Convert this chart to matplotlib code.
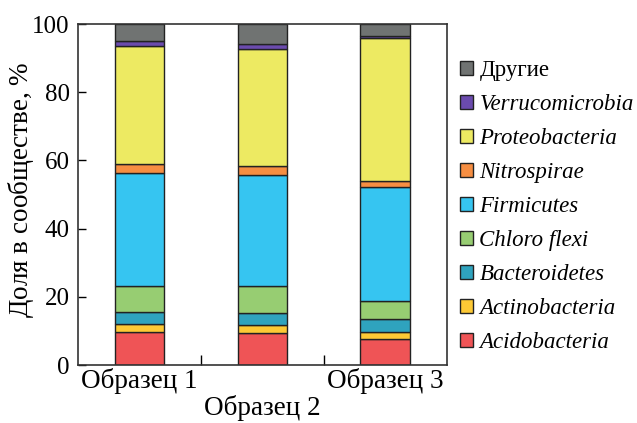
import numpy as np
import matplotlib
matplotlib.use("Agg")
import matplotlib.pyplot as plt
from matplotlib.patches import Patch

plt.rcParams['font.family'] = ['Liberation Serif', 'DejaVu Serif']
plt.rcParams['mathtext.fontset'] = 'custom'
plt.rcParams['mathtext.it'] = 'Liberation Serif:italic'
plt.rcParams['mathtext.rm'] = 'Liberation Serif'

samples = ['Образец 1', 'Образец 2', 'Образец 3']
taxa = ['Acidobacteria', 'Actinobacteria', 'Bacteroidetes', 'Chloroflexi',
        'Firmicutes', 'Nitrospirae', 'Proteobacteria', 'Verrucomicrobia', 'Другие']
legend_names = ['Acidobacteria', 'Actinobacteria', 'Bacteroidetes', 'Chloro flexi',
                'Firmicutes', 'Nitrospirae', 'Proteobacteria', 'Verrucomicrobia', 'Другие']
colors = ['#EF5456', '#FDC935', '#2FA3BE', '#97CD72', '#36C5F1',
          '#F68E42', '#EDEA62', '#6B4BAE', '#707372']

acidobacteria = [9.6, 9.3, 7.6]
actinobacteria = [2.3, 2.5, 2.0]
bacteroidetes = [3.6, 3.4, 3.8]
chloroflexi = [7.8, 8.1, 5.3]
firmicutes = [33.0, 32.3, 33.4]
nitrospirae = [2.8, 2.9, 1.8]
proteobacteria = [34.5, 34.3, 41.9]
verrucomicrobia = [1.3, 1.5, 0.8]
others = [5.1, 5.7, 3.4]

series = [acidobacteria, actinobacteria, bacteroidetes, chloroflexi, firmicutes,
          nitrospirae, proteobacteria, verrucomicrobia, others]

fig = plt.figure(figsize=(6.37, 4.23), dpi=100)
ax = fig.add_axes([0.1225, 0.137, 0.579, 0.806])

x = np.arange(len(samples)) + 0.5
bottom = np.zeros(len(samples))
for vals, c in zip(series, colors):
    vals = np.array(vals)
    ax.bar(x, vals, width=0.405, bottom=bottom, color=c,
           edgecolor='#222222', linewidth=1.0)
    bottom += vals

ax.set_xlim(0, 3)
ax.set_ylim(0, 100)
ax.set_yticks([0, 20, 40, 60, 80, 100])
ax.tick_params(axis='y', direction='in', length=6, labelsize=18, width=1, pad=6)
ax.set_xticks(x)
ax.set_xticklabels([samples[0], '\n' + samples[1], samples[2]], fontsize=19.5,
                   linespacing=1.1)
ax.tick_params(axis='x', which='major', length=0, pad=2)
ax.set_xticks([1, 2], minor=True)
ax.tick_params(axis='x', which='minor', direction='in', length=7, width=1)
for s in ax.spines.values():
    s.set_color('#333333')
    s.set_linewidth(1.2)

ax.set_ylabel('Доля в сообществе, $\\mathit{\\%}$', fontsize=19.5)
ax.yaxis.set_label_coords(-0.114, 0.515)

handles = [Patch(facecolor=c, edgecolor='#222222', linewidth=1.0) for c in colors]
leg = ax.legend(handles[::-1], legend_names[::-1], loc='center left',
                bbox_to_anchor=(0.992, 0.465), frameon=False, fontsize=16.5,
                handlelength=0.55, handleheight=0.55, handletextpad=0.3,
                labelspacing=0.57, borderaxespad=0.3)
for t in leg.get_texts():
    if t.get_text() != 'Другие':
        t.set_fontstyle('italic')

fig.savefig('out.png', dpi=100)
